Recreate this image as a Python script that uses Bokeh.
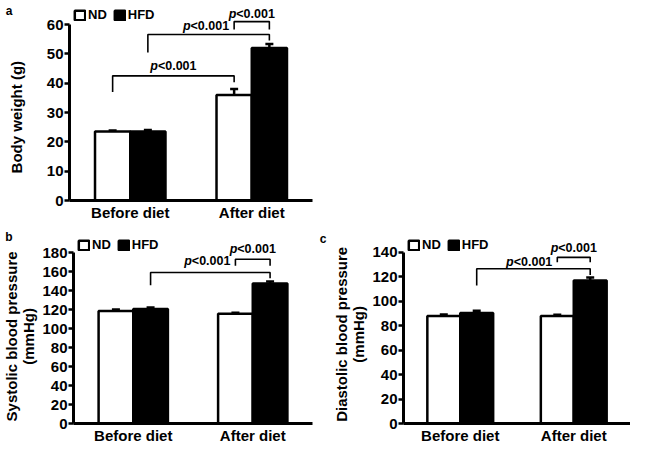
from bokeh.plotting import figure
from bokeh.models import (ColumnDataSource, Whisker, Legend, LegendItem, Label,
                          FixedTicker, Range1d, LinearAxis)
from bokeh.layouts import column, row
from bokeh.embed import file_html
from bokeh.resources import INLINE

# ---------------- data ----------------
groups = ["Before diet", "After diet"]
series = ["ND", "HFD"]

bw_nd = [23.5, 36.0]
bw_nd_err = [0.4, 2.0]
bw_hfd = [23.5, 52.0]
bw_hfd_err = [0.5, 1.4]

sbp_nd = [118.5, 115.5]
sbp_nd_err = [1.5, 1.0]
sbp_hfd = [120.5, 147.5]
sbp_hfd_err = [1.5, 2.0]

dbp_nd = [88.0, 88.0]
dbp_nd_err = [1.2, 1.0]
dbp_hfd = [90.5, 117.0]
dbp_hfd_err = [1.8, 2.5]

bw_ticks = [0, 10, 20, 30, 40, 50, 60]
sbp_ticks = [0, 20, 40, 60, 80, 100, 120, 140, 160, 180]
dbp_ticks = [0, 20, 40, 60, 80, 100, 120, 140]

p_text = "<0.001"

FONT = "Liberation Sans"
OFF = 0.145
BW = 0.29
NBSP = "\u00a0"


def bar_x(group_idx, s):
    return group_idx + 1 + (-OFF if s == 0 else OFF)


def p_label(p, x, y, mode, gap=5):
    fs = 12.5
    wp = 0.611 * fs
    wr = 3.086 * fs
    if mode == "center":
        off = -(wp + wr) / 2 + wp
    else:
        off = -gap - wr
    common = dict(x=x, y=y, x_offset=off, text_baseline="middle",
                  text_font=FONT, text_font_size=f"{fs}px", text_color="black")
    p.add_layout(Label(text="p", text_align="right", text_font_style="bold italic", **common))
    p.add_layout(Label(text=p_text, text_align="left", text_font_style="bold", **common))


def make_panel(letter, letter_y, letter_standoff, nd, nd_err, hfd, hfd_err,
               ylabel_lines, pad, label_standoff, label_lh, yticks, yend,
               width, height, borders, legend_loc, brackets):
    bl, br, bt, bb = borders
    p = figure(width=width, height=height, x_range=Range1d(0.5, 2.5),
               y_range=Range1d(0, yend), output_backend="svg",
               toolbar_location=None, title=None,
               min_border_left=bl, min_border_right=br,
               min_border_top=bt, min_border_bottom=bb)
    xs = list(range(1, len(groups) + 1))
    src = ColumnDataSource(dict(
        x_nd=[g - OFF for g in xs], x_hfd=[g + OFF for g in xs],
        nd=nd, hfd=hfd,
        nd_top=[v + e for v, e in zip(nd, nd_err)],
        hfd_top=[v + e for v, e in zip(hfd, hfd_err)]))
    r_nd = p.vbar(x="x_nd", top="nd", bottom=0, width=BW, source=src,
                  fill_color="white", line_color="black", line_width=2.5)
    r_hfd = p.vbar(x="x_hfd", top="hfd", bottom=0, width=BW, source=src,
                   fill_color="black", line_color="black", line_width=2.5)
    for base, lo, hi in (("x_nd", "nd", "nd_top"), ("x_hfd", "hfd", "hfd_top")):
        w = Whisker(source=src, base=base, lower=lo, upper=hi, dimension="height",
                    line_color="black", line_width=2.5, lower_head=None)
        w.upper_head.size = 8
        w.upper_head.line_width = 2.5
        w.upper_head.line_color = "black"
        p.add_layout(w)

    # brackets between bar centres, with p-value labels
    bxs, bys = [], []
    for (ga, sa, gb, sb, ytop, yl, yr, mode, ly) in brackets:
        xa, xb = bar_x(ga, sa), bar_x(gb, sb)
        bxs.append([xa, xa, xb, xb])
        bys.append([yl, ytop, ytop, yr])
        if mode == "center":
            p_label(p, (xa + xb) / 2, ly, "center")
        else:
            p_label(p, bar_x(gb, 0), ly, "right")
    p.multi_line(bxs, bys, line_color="black", line_width=1.6)

    # axes
    p.xaxis.ticker = FixedTicker(ticks=xs)
    p.xaxis.major_label_overrides = {g: lab for g, lab in zip(xs, groups)}
    p.yaxis.ticker = FixedTicker(ticks=yticks)
    p.yaxis.bounds = (0, yticks[-1])
    for ax in (p.xaxis[0], p.yaxis[0]):
        ax.axis_line_width = 3
        ax.axis_line_color = "black"
        ax.major_label_text_font = FONT
        ax.major_label_text_font_style = "bold"
        ax.major_label_text_color = "black"
        ax.major_tick_line_width = 2.5
        ax.major_tick_line_color = "black"
        ax.minor_tick_line_color = None
    p.xaxis.major_tick_line_color = None
    p.xaxis.major_tick_out = 0
    p.xaxis.major_tick_in = 0
    p.xaxis.major_label_standoff = 3
    p.xaxis.major_label_text_font_size = "15px"
    p.yaxis.major_label_text_font_size = "15px"
    p.yaxis.major_tick_out = 5
    p.yaxis.major_tick_in = 0
    p.yaxis.major_label_standoff = 1
    # axis title; trailing no-break spaces centre the words on the 0..max extent
    p.yaxis.axis_label = "\n".join(line + NBSP * pad for line in ylabel_lines)
    p.yaxis.axis_label_text_font = FONT
    p.yaxis.axis_label_text_font_style = "bold"
    p.yaxis.axis_label_text_font_size = "15px"
    p.yaxis.axis_label_text_line_height = label_lh
    p.yaxis.axis_label_text_color = "black"
    p.yaxis.axis_label_standoff = label_standoff
    p.xgrid.grid_line_color = None
    p.ygrid.grid_line_color = None
    p.outline_line_color = None

    # panel letter, drawn as the only label of a bare outer axis
    la = LinearAxis(ticker=FixedTicker(ticks=[letter_y]),
                    major_label_overrides={letter_y: letter},
                    axis_line_color=None, major_tick_line_color=None,
                    minor_tick_line_color=None, major_tick_out=0, major_tick_in=0,
                    major_label_standoff=letter_standoff,
                    major_label_text_font=FONT, major_label_text_font_style="bold",
                    major_label_text_font_size="12px", major_label_text_color="black")
    p.add_layout(la, "left")

    legend = Legend(items=[LegendItem(label=series[0], renderers=[r_nd]),
                           LegendItem(label=series[1], renderers=[r_hfd])],
                    orientation="horizontal", location=legend_loc,
                    glyph_width=13, glyph_height=12, label_standoff=2, spacing=6,
                    padding=0, margin=0, border_line_color=None,
                    background_fill_alpha=0, label_height=12, label_width=10,
                    label_text_font=FONT, label_text_font_style="bold",
                    label_text_font_size="13px", label_text_color="black")
    p.add_layout(legend)
    return p


# brackets: (group a, series a, group b, series b, y_top, left_leg_bottom, right_leg_bottom, label mode, label y)
pa = make_panel("a", 67, -8, bw_nd, bw_nd_err, bw_hfd, bw_hfd_err,
                ["Body weight (g)"], 8, 19, 1.2, bw_ticks, 68.2,
                315, 228, (69, 3, 0, 28), (4, 178),
                [(0, 0, 1, 0, 42.5, 37.0, 40.3, "center", 45.8),
                 (0, 1, 1, 1, 56.6, 50.5, 54.6, "right", 59.6),
                 (1, 0, 1, 1, 61.0, 58.3, 58.3, "center", 63.6)])

pb = make_panel("b", 199, -12, sbp_nd, sbp_nd_err, sbp_hfd, sbp_hfd_err,
                ["Systolic blood pressure", "(mmHg)"], 5, 2, 1.0, sbp_ticks, 205.3,
                313, 218, (69, 1, 0, 23), (4, 171),
                [(0, 1, 1, 1, 159.0, 145.5, 153.0, "right", 170.6),
                 (1, 0, 1, 1, 173.0, 166.0, 166.0, "center", 183.6)])

pc = make_panel("c", 151, 4, dbp_nd, dbp_nd_err, dbp_hfd, dbp_hfd_err,
                ["Diastolic blood pressure", "(mmHg)"], 4, 2, 1.0, dbp_ticks, 159.6,
                317, 218, (90, 0, 0, 23), (4, 171),
                [(0, 1, 1, 1, 126.6, 113.0, 121.6, "right", 132.5),
                 (1, 0, 1, 1, 136.0, 132.0, 132.0, "center", 143.6)])

p = column(pa, row(pb, pc))

open("out.html", "w").write(file_html(p, INLINE))
